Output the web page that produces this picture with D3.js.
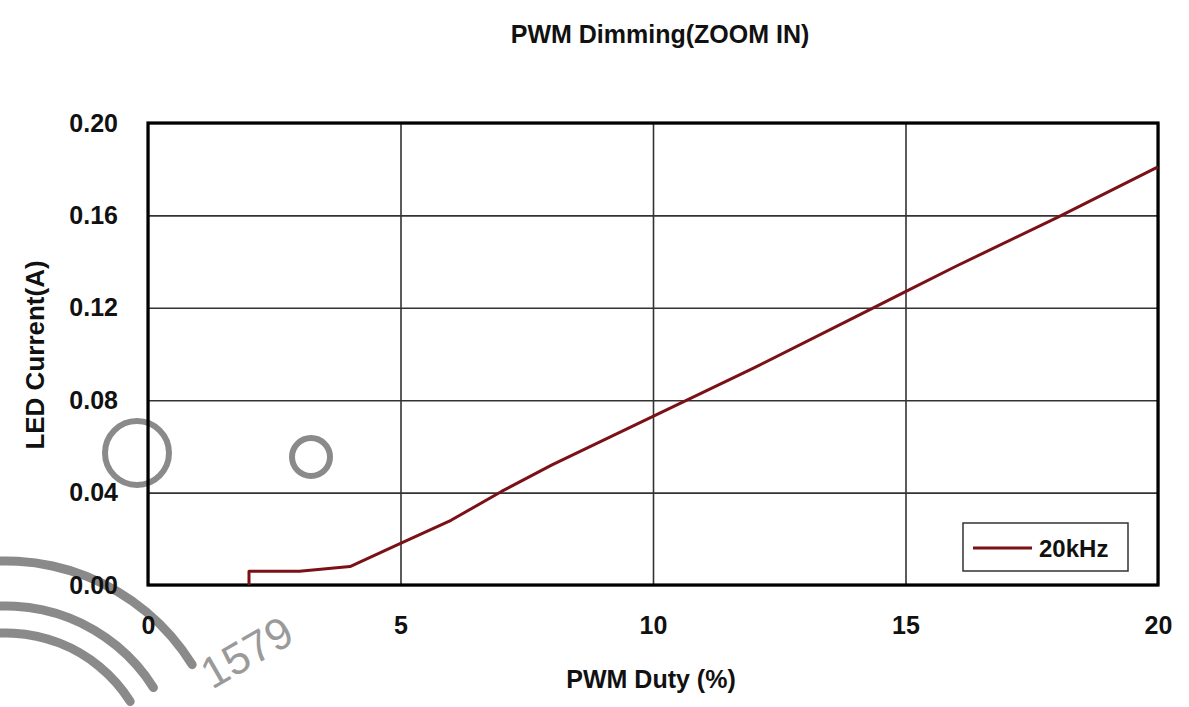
<!DOCTYPE html>
<html>
<head>
<meta charset="utf-8">
<script src="https://cdn.jsdelivr.net/npm/d3@7"></script>
<style>
  body { margin: 0; background: #fff; }
  text { font-family: "Liberation Sans", Arial, sans-serif; }
</style>
</head>
<body>
<div id="chart"></div>
<script>
// data
const duty = [2, 2, 3, 4, 5, 6, 7, 8, 10, 12, 14, 15, 16, 18, 20];
const current = [0, 0.006, 0.006, 0.008, 0.018, 0.028, 0.0405, 0.052, 0.073, 0.094, 0.116, 0.127, 0.138, 0.159, 0.181];
const xTicks = [0, 5, 10, 15, 20];
const yTicks = [0, 0.04, 0.08, 0.12, 0.16, 0.20];
const seriesName = '20kHz';

const W = 1189, H = 707;
const space = { top: 123, right: 31, bottom: 122, left: 148 };
const w = W - space.left - space.right,
  h = H - space.top - space.bottom;

const svg = d3.select('#chart')
  .append('svg')
  .attr('width', W)
  .attr('height', H);

const xScale = d3.scaleLinear().domain([0, 20]).range([0, w]);
const yScale = d3.scaleLinear().domain([0, 0.20]).range([h, 0]);

// watermark, drawn first so the chart sits on top
const wm = svg.append('g').attr('fill', 'none').attr('stroke', '#8a8a8a');
wm.append('circle').attr('cx', 137).attr('cy', 453).attr('r', 32).attr('stroke-width', 6);
wm.append('circle').attr('cx', 311).attr('cy', 457).attr('r', 19).attr('stroke-width', 6);
[219, 174, 147].forEach(r => {
  wm.append('path')
    .attr('transform', 'translate(6, 780)')
    .attr('d', d3.arc().cornerRadius(4.5)({ innerRadius: r - 4.5, outerRadius: r + 4.5, startAngle: -Math.PI / 2, endAngle: Math.PI * 0.33 }))
    .attr('fill', '#8a8a8a').attr('stroke', 'none');
});
svg.append('text')
  .text('1579')
  .attr('transform', 'translate(212, 690) rotate(-30)')
  .style('font-size', '44px').attr('fill', '#9a9a9a');

const g = svg.append('g')
  .attr('transform', `translate(${space.left}, ${space.top})`);

// grid
g.append('g')
  .attr('transform', `translate(0, ${h})`)
  .call(d3.axisBottom(xScale).tickValues(xTicks).tickSize(-h).tickFormat(''))
  .call(a => a.select('.domain').remove())
  .selectAll('line').attr('stroke', '#333').attr('stroke-width', 1.6);

g.append('g')
  .call(d3.axisLeft(yScale).tickValues(yTicks).tickSize(-w).tickFormat(''))
  .call(a => a.select('.domain').remove())
  .selectAll('line').attr('stroke', '#333').attr('stroke-width', 1.6);

// tick labels
const xAxis = g.append('g')
  .attr('transform', `translate(0, ${h})`)
  .call(d3.axisBottom(xScale).tickValues(xTicks).tickSize(0).tickPadding(31).tickFormat(d3.format('d')));
xAxis.select('.domain').remove();
xAxis.selectAll('text')
  .style('font-size', '25px').style('font-weight', 'bold').attr('fill', '#111');

const yAxis = g.append('g')
  .call(d3.axisLeft(yScale).tickValues(yTicks).tickSize(0).tickPadding(30).tickFormat(d3.format('.2f')));
yAxis.select('.domain').remove();
yAxis.selectAll('text')
  .style('font-size', '25px').style('font-weight', 'bold').attr('fill', '#111');

// frame
g.append('rect')
  .attr('width', w).attr('height', h)
  .attr('fill', 'none').attr('stroke', '#000').attr('stroke-width', 3.2);

// the curve
const line = d3.line().x(d => xScale(d[0])).y(d => yScale(d[1]));
g.append('path')
  .datum(d3.zip(duty, current))
  .attr('d', line)
  .attr('fill', 'none')
  .attr('stroke', '#7b1116')
  .attr('stroke-width', 3)
  .attr('stroke-linejoin', 'round');

// legend
const lg = g.append('g').attr('transform', `translate(${w - 195}, ${h - 62})`);
lg.append('rect')
  .attr('width', 165).attr('height', 48)
  .attr('fill', '#fff').attr('stroke', '#333').attr('stroke-width', 1.5);
lg.append('line')
  .attr('x1', 10).attr('x2', 69).attr('y1', 25).attr('y2', 25)
  .attr('stroke', '#7b1116').attr('stroke-width', 3);
lg.append('text')
  .text(seriesName)
  .attr('x', 76).attr('y', 34)
  .style('font-size', '24px').style('font-weight', 'bold').attr('fill', '#111');

// titles
svg.append('text')
  .text('PWM Dimming(ZOOM IN)')
  .attr('x', 660).attr('y', 43)
  .attr('text-anchor', 'middle')
  .style('font-size', '25px').style('font-weight', 'bold').attr('fill', '#111');

svg.append('text')
  .text('PWM Duty (%)')
  .attr('x', 651).attr('y', 688)
  .attr('text-anchor', 'middle')
  .style('font-size', '25px').style('font-weight', 'bold').attr('fill', '#111');

svg.append('text')
  .text('LED Current(A)')
  .attr('transform', `translate(44, 355) rotate(-90)`)
  .attr('text-anchor', 'middle')
  .style('font-size', '26px').style('font-weight', 'bold').attr('fill', '#111');
</script>
</body>
</html>
